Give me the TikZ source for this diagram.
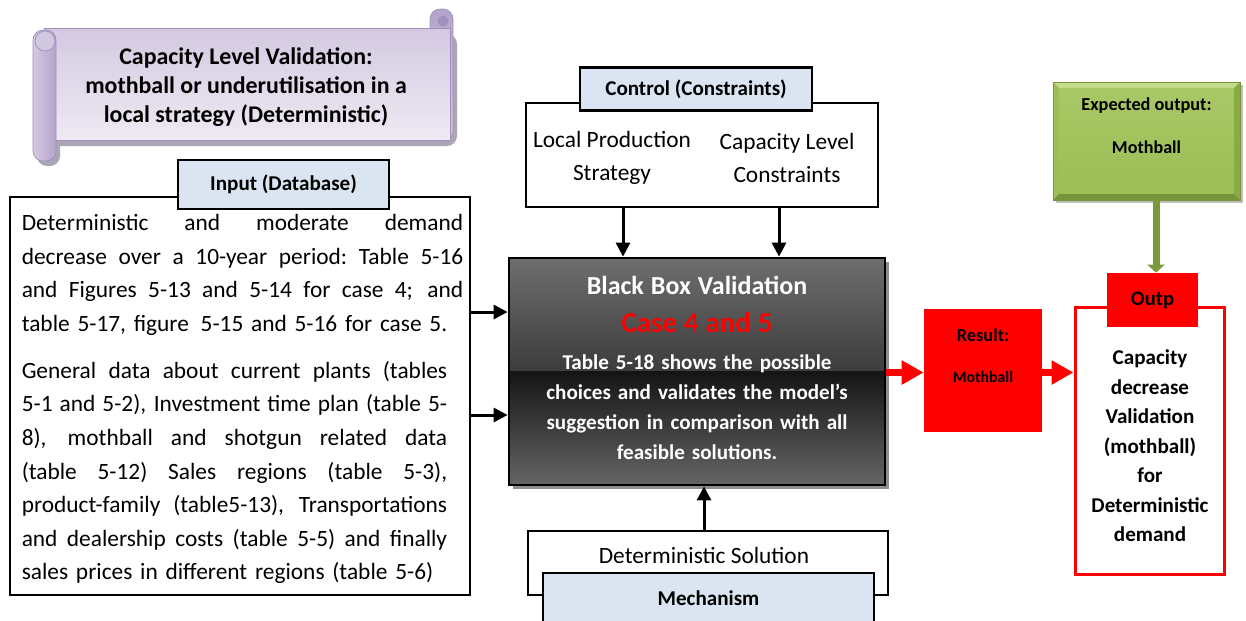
\documentclass[tikz,border=0pt]{standalone}
\usepackage{fontspec}
\setmainfont{Carlito}
\usetikzlibrary{positioning,arrows.meta,shadows}

\definecolor{lblblue}{HTML}{DBE5F1}
\definecolor{scrlight}{HTML}{EEEAF3}
\definecolor{scrmid}{HTML}{D3C9E1}
\definecolor{scrdark}{HTML}{B4A4CC}
\definecolor{scredge}{HTML}{A090BE}
\definecolor{scrshadow}{HTML}{ABA5B5}
\definecolor{grnface}{HTML}{9CBE55}
\definecolor{grnlight}{HTML}{C4DD8C}
\definecolor{grnside}{HTML}{8AAA45}
\definecolor{grndark}{HTML}{76943A}
\definecolor{grnarrow}{HTML}{7A9A3A}
\definecolor{bbgray}{HTML}{6E6E6E}
\definecolor{bbshadow}{HTML}{8E8E8E}

\newcommand{\fullline}[2][8.83cm]{\leavevmode\hbox to #1{\spaceskip=0.226em plus 1fil\relax #2}}

\tikzset{
  box/.style={draw, line width=1.2pt, inner sep=0pt},
  lbl/.style={box, fill=lblblue, font=\fontsize{12}{14}\selectfont\bfseries},
  plain/.style={font=\fontsize{13.3}{18.7}\selectfont, align=center, inner sep=0pt},
  boldtext/.style={font=\fontsize{12}{16.8}\selectfont\bfseries, align=center, inner sep=0pt},
  arr/.style={line width=1.7pt, -{Triangle[length=0.28cm,width=0.28cm]}},
  redarr/.style={draw=red, line width=0.14cm, -{Triangle[length=0.44cm,width=0.46cm]}},
  grnarr/.style={draw=grnarrow, line width=0.14cm, -{Triangle[length=0.16cm,width=0.34cm]}},
  blackbox/.style={box, line width=1.6pt,
    drop shadow={shadow xshift=0.08cm, shadow yshift=-0.08cm, fill=bbshadow, opacity=1},
    path picture={
      \shade[top color=bbgray, bottom color=black!96]
        (path picture bounding box.north west) rectangle (path picture bounding box.east);
      \shade[top color=black!92, bottom color=bbgray!92!black]
        (path picture bounding box.west) rectangle (path picture bounding box.south east);
    }},
  bevelbox/.style={draw=grndark, line width=0.5pt, inner sep=0pt,
    drop shadow={shadow xshift=0.05cm, shadow yshift=-0.06cm, fill=black!25, opacity=1},
    path picture={
      \coordinate (bnw) at (path picture bounding box.north west);
      \coordinate (bne) at (path picture bounding box.north east);
      \coordinate (bsw) at (path picture bounding box.south west);
      \coordinate (bse) at (path picture bounding box.south east);
      \coordinate (inw) at ([shift={(0.13cm,-0.13cm)}]bnw);
      \coordinate (ine) at ([shift={(-0.13cm,-0.13cm)}]bne);
      \coordinate (isw) at ([shift={(0.13cm,0.13cm)}]bsw);
      \coordinate (ise) at ([shift={(-0.13cm,0.13cm)}]bse);
      \fill[grnlight] (bnw) -- (bne) -- (ine) -- (inw) -- cycle;
      \fill[grnface] (bnw) -- (inw) -- (isw) -- (bsw) -- cycle;
      \fill[grndark] (bsw) -- (isw) -- (ise) -- (bse) -- cycle;
      \fill[grnside] (bne) -- (bse) -- (ise) -- (ine) -- cycle;
      \shade[top color=grnface!70!grnlight, bottom color=grnface] (inw) rectangle (ise);
    }}
}

\begin{document}
\begin{tikzpicture}[x=0.02cm,y=-0.02cm]
\useasboundingbox (0,0) rectangle (1246,620);
\clip (0,0) rectangle (1246,620);

% title scroll
\fill[scrshadow, rounded corners=0.2cm] (49,34) rectangle (457,146);
\fill[scrshadow, rounded corners=0.2cm] (37,36) rectangle (60,166);
\shade[top color=scrdark, bottom color=scrmid, draw=scredge, rounded corners=0.2cm] (430,9) rectangle (453,141);
\shade[top color=scrmid, bottom color=scrlight, draw=scredge] (44,28) rectangle (450,140);
\shade[left color=scrmid, right color=scrdark, draw=scredge, rounded corners=0.2cm] (33,30) rectangle (56,161);
\filldraw[fill=scrlight!50!scrdark, draw=scredge] (45,41) circle (0.2cm);
\filldraw[fill=scredge, draw=scredge] (443,21) circle (0.1cm);
\node[font=\fontsize{13.6}{16.6}\selectfont\bfseries, align=center] (ttl) at (246,87)
  {Capacity Level Validation:\\mothball or underutilisation in a\\local strategy (Deterministic)};

% input
\node[box, line width=1.3pt, minimum width=9.2cm, minimum height=7.96cm] (inp) at (240,396) {};
\node[lbl, minimum width=4.22cm, minimum height=0.98cm] (inl) at (283.5,184.5) {Input (Database)};
\node[inner sep=0pt, text width=8.83cm, align=left, font=\fontsize{13.3}{19.1}\selectfont,
  right=0.25cm of inp.west, yshift=-0.06cm] (inptxt) {%
  \fullline{Deterministic and moderate demand}\\
  \fullline{decrease over a 10-year period: Table 5-16}\\
  \fullline{and Figures 5-13 and 5-14 for case 4; and}\\
  table 5-17, figure \,5-15 and 5-16 for case 5.\\[7.8pt]
  \fullline[8.51cm]{General data about current plants (tables}\\
  \fullline[8.51cm]{5-1 and 5-2), Investment time plan (table 5-}\\
  \fullline[8.51cm]{8), mothball and shotgun related data}\\
  \fullline[8.51cm]{(table 5-12) Sales regions (table 5-3),}\\
  \fullline[8.51cm]{product-family (table5-13), Transportations}\\
  \fullline[8.51cm]{and dealership costs (table 5-5) and finally}\\
  sales prices in different regions (table 5-6)};

% control
\node[box, minimum width=7.04cm, minimum height=2.08cm] (ctrl) at (702,155) {};
\node[lbl, minimum width=4.64cm, minimum height=0.86cm] (ctl) at (696,89) {Control (Constraints)};
\node[plain] (lps) at (612,158) {Local Production\\Strategy};
\node[plain] (cls) at (787,158) {Capacity Level\\Constraints};

% black box
\node[blackbox, minimum width=7.52cm, minimum height=4.54cm] (bb) at (697,371.5) {};
\node[text=white, text width=7cm, align=center, inner sep=0pt,
  font=\fontsize{12}{17}\selectfont\bfseries] (bbtxt) at (697,368) {%
  {\fontsize{14.8}{17}\selectfont Black Box Validation}\\[4.5pt]
  {\fontsize{16.4}{17}\selectfont\color{red} Case 4 and 5}\\[4pt]
  Table 5-18 shows the possible\\
  choices and validates the model’s\\
  suggestion in comparison with all\\
  feasible solutions.};

% mechanism
\node[box, minimum width=7.2cm, minimum height=1.28cm] (mech) at (708,563) {};
\node[plain] (dsol) at (704,555) {Deterministic Solution};
\node[lbl, minimum width=6.62cm, minimum height=1.0cm] (mlb) at (708.5,598) {Mechanism};

% result and output
\node[fill=red, minimum width=2.36cm, minimum height=2.46cm] (res) at (983,370.5) {};
\node[font=\fontsize{10.4}{23.2}\selectfont\bfseries, align=center, inner sep=0pt] (restxt) at (983,356)
  {Result:\\{\fontsize{9}{11}\selectfont Mothball}};
\node[draw=red, line width=1.7pt, minimum width=2.98cm, minimum height=5.36cm] (outf) at (1149.5,441) {};
\node[fill=red, minimum width=1.82cm, minimum height=1.08cm, font=\fontsize{11.7}{14}\selectfont\bfseries] (outl) at (1152.5,300) {Outp};
\node[boldtext] (outtxt) at (1150,446)
  {Capacity\\decrease\\Validation\\(mothball)\\for\\Deterministic\\demand};

% expected output
\node[bevelbox, minimum width=3.74cm, minimum height=2.36cm] (exp) at (1146.5,141) {};
\node[font=\fontsize{10.4}{24.4}\selectfont\bfseries, align=center, inner sep=0pt] (exptxt) at (1146.5,126)
  {Expected output:\\{\fontsize{10.3}{12}\selectfont Mothball}};

% connectors
\draw[arr] (inp.east |- 0,312) -- (bb.west |- 0,312);
\draw[arr] (inp.east |- 0,415) -- (bb.west |- 0,415);
\draw[arr] (ctrl.south -| 623,0) -- (bb.north -| 623,0);
\draw[arr] (ctrl.south -| 779,0) -- (bb.north -| 779,0);
\draw[arr] (mech.north -| 704,0) -- (bb.south -| 704,0);
\draw[redarr] (bb.east |- 0,372.5) -- (res.west |- 0,372.5);
\draw[redarr] (res.east |- 0,372.5) -- (outf.west |- 0,372.5);
\draw[grnarr] (exp.south -| 1156,0) -- (outl.north -| 1156,0);
\end{tikzpicture}
\end{document}
